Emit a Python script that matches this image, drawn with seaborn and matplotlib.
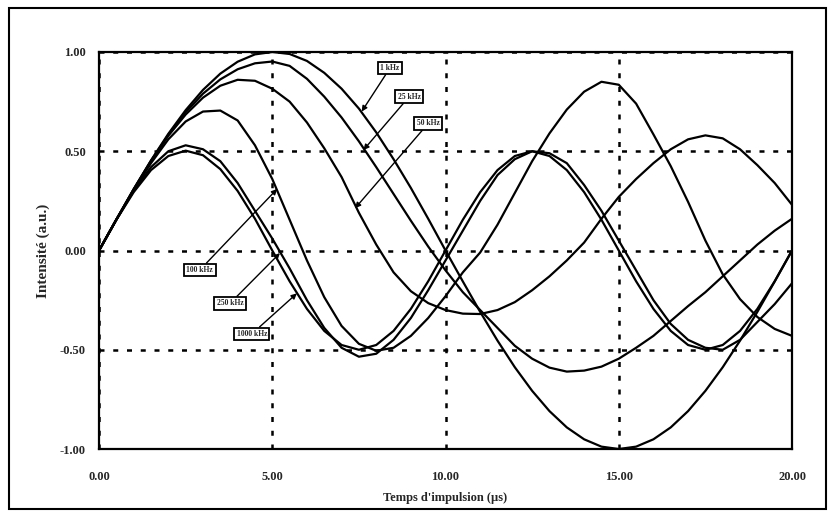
import numpy as np
import pandas as pd
import matplotlib
matplotlib.use("Agg")
import matplotlib.pyplot as plt
import seaborn as sns
from matplotlib.ticker import MultipleLocator, FormatStrFormatter
from matplotlib.patches import Rectangle

# temps d'impulsion (µs), pas de 0.5
temps = np.arange(0, 20.5, 0.5)

# intensités
i_1khz = [0, 0.156, 0.309, 0.454, 0.588, 0.707, 0.809, 0.891, 0.951, 0.988, 1.0,
          0.99, 0.955, 0.895, 0.815, 0.715, 0.595, 0.46, 0.315, 0.16, 0.0,
          -0.156, -0.309, -0.454, -0.588, -0.707, -0.809, -0.891, -0.951, -0.988, -1.0,
          -0.988, -0.951, -0.891, -0.809, -0.707, -0.588, -0.454, -0.309, -0.156, 0.0]
i_25khz = [0, 0.156, 0.309, 0.452, 0.583, 0.697, 0.79, 0.862, 0.913, 0.943, 0.952,
           0.93, 0.865, 0.775, 0.67, 0.55, 0.42, 0.285, 0.15, 0.02, -0.10,
           -0.21, -0.30, -0.39, -0.48, -0.545, -0.59, -0.61, -0.605, -0.585, -0.545,
           -0.49, -0.43, -0.355, -0.28, -0.21, -0.13, -0.05, 0.03, 0.10, 0.16]
i_50khz = [0, 0.156, 0.308, 0.45, 0.578, 0.685, 0.77, 0.83, 0.86, 0.855, 0.815,
           0.75, 0.645, 0.515, 0.37, 0.19, 0.03, -0.11, -0.205, -0.265, -0.30,
           -0.318, -0.32, -0.30, -0.26, -0.20, -0.13, -0.05, 0.04, 0.16, 0.27,
           0.36, 0.44, 0.51, 0.56, 0.58, 0.565, 0.51, 0.43, 0.34, 0.23]
i_100khz = [0, 0.156, 0.305, 0.44, 0.56, 0.65, 0.70, 0.705, 0.655, 0.53, 0.36,
            0.155, -0.05, -0.235, -0.38, -0.47, -0.505, -0.49, -0.43, -0.34, -0.23,
            -0.11, -0.01, 0.13, 0.29, 0.45, 0.59, 0.71, 0.80, 0.85, 0.835,
            0.74, 0.585, 0.425, 0.245, 0.05, -0.12, -0.245, -0.335, -0.395, -0.43]
i_250khz = [0, 0.155, 0.30, 0.42, 0.50, 0.53, 0.51, 0.45, 0.34, 0.20, 0.06,
            -0.09, -0.25, -0.39, -0.49, -0.535, -0.52, -0.45, -0.34, -0.20, -0.05,
            0.10, 0.25, 0.38, 0.46, 0.50, 0.49, 0.44, 0.33, 0.20, 0.05,
            -0.10, -0.25, -0.37, -0.45, -0.49, -0.50, -0.45, -0.36, -0.27, -0.165]
i_1000khz = [0, 0.155, 0.294, 0.405, 0.476, 0.503, 0.48, 0.41, 0.30, 0.16, 0.0,
             -0.155, -0.294, -0.405, -0.476, -0.50, -0.476, -0.405, -0.294, -0.155, 0.0,
             0.155, 0.294, 0.405, 0.476, 0.50, 0.476, 0.405, 0.294, 0.155, 0.0,
             -0.155, -0.294, -0.405, -0.476, -0.50, -0.476, -0.405, -0.294, -0.155, 0.0]

frequences = ["1 kHz", "25 kHz", "50 kHz", "100 kHz", "250 kHz", "1000 kHz"]
series = [i_1khz, i_25khz, i_50khz, i_100khz, i_250khz, i_1000khz]

df = pd.concat([pd.DataFrame({"t": temps, "I": s, "freq": f}) for f, s in zip(frequences, series)],
               ignore_index=True)

sns.set_style("white")
plt.rcParams["font.family"] = ["Liberation Serif", "DejaVu Serif"]

fig = plt.figure(figsize=(8.33, 5.22), dpi=100)
ax = fig.add_axes([0.1189, 0.1398, 0.8319, 0.7606])

sns.lineplot(data=df, x="t", y="I", hue="freq", palette=["black"] * 6, legend=False,
             errorbar=None, linewidth=1.6, ax=ax)

ax.set_xlim(0, 20)
ax.set_ylim(-1, 1)
ax.set_xticks([0, 5, 10, 15, 20])
ax.set_yticks([-1, -0.5, 0, 0.5, 1])
ax.xaxis.set_minor_locator(MultipleLocator(2.5))
ax.yaxis.set_minor_locator(MultipleLocator(0.25))
ax.xaxis.set_major_formatter(FormatStrFormatter("%.2f"))
ax.yaxis.set_major_formatter(FormatStrFormatter("%.2f"))
ax.tick_params(which="major", direction="inout", length=7, width=1.3, color="black",
               labelsize=9)
ax.tick_params(axis="x", which="major", pad=12)
ax.tick_params(axis="y", which="major", pad=6)
ax.tick_params(which="minor", direction="in", length=4, width=1.2, color="black")
for lab in ax.get_xticklabels() + ax.get_yticklabels():
    lab.set_fontweight("bold")

ax.grid(True, which="major", color="black", linestyle=(0, (2, 3.5)), linewidth=1.8)
for sp in ax.spines.values():
    sp.set_color("black")
    sp.set_linewidth(1.6)

ax.set_xlabel("Temps d'impulsion (µs)", fontsize=9, fontweight="bold", labelpad=7)
ax.set_ylabel("Intensité (a.u.)", fontsize=11, fontweight="bold", labelpad=7)

# étiquettes avec flèches
etiquettes = [("1 kHz", (7.58, 0.70), (8.40, 0.92)),
              ("25 kHz", (7.63, 0.506), (8.95, 0.775)),
              ("50 kHz", (7.39, 0.213), (9.50, 0.64)),
              ("100 kHz", (5.14, 0.31), (2.91, -0.098)),
              ("250 kHz", (5.22, -0.013), (3.78, -0.266)),
              ("1000 kHz", (5.71, -0.216), (4.41, -0.42))]
for txt, pointe, centre in etiquettes:
    ax.annotate(txt, xy=pointe, xytext=centre, ha="center", va="center",
                fontsize=5.5, fontweight="bold",
                bbox=dict(boxstyle="square,pad=0.3", fc="white", ec="black", lw=1.3),
                arrowprops=dict(arrowstyle="-|>", color="black", lw=1.0,
                                mutation_scale=8, shrinkA=0, shrinkB=0))

# cadre extérieur
fig.add_artist(Rectangle((0.011, 0.025), 0.98, 0.96, transform=fig.transFigure,
                         fill=False, ec="black", lw=1.5))

fig.savefig("out.png", dpi=100)
